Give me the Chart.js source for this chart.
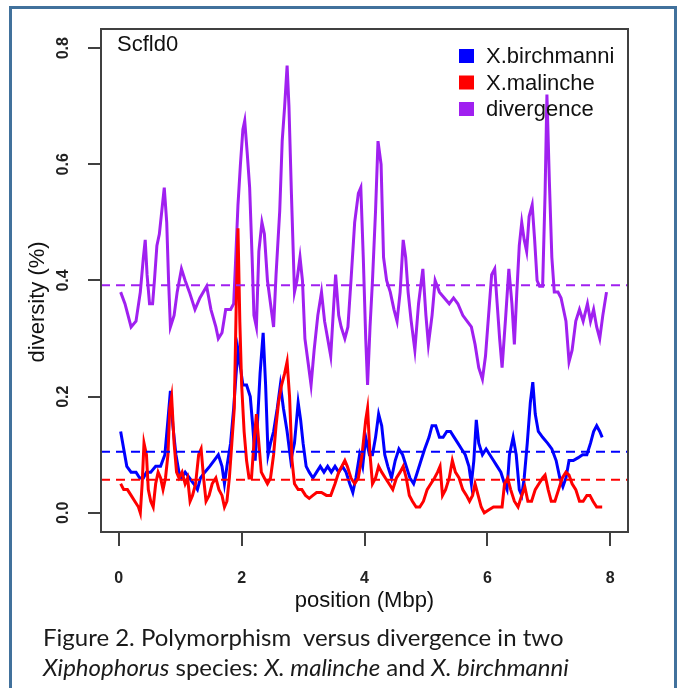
<!DOCTYPE html>
<html>
<head>
<meta charset="utf-8">
<script src="https://cdn.jsdelivr.net/npm/chart.js@4.4.1/dist/chart.umd.min.js"></script>
<style>
  body { margin: 0; background: #fff; }
  #wrap { position: relative; width: 683px; height: 688px; overflow: hidden; background: #fff; }
  #c { position: absolute; left: 0; top: 0; }
  #frame { position: absolute; left: 9px; top: 6px; width: 668px; height: 720px; border: 3px solid #41719c; box-sizing: border-box; }
  #caption { position: absolute; left: 43px; top: 622px; font-family: Lato, sans-serif; font-size: 24px; line-height: 30px; color: #1a1a1a; white-space: nowrap; }
</style>
</head>
<body>
<div id="wrap">
  <canvas id="c" width="683" height="688"></canvas>
  <div id="frame"></div>
  <div id="caption">Figure 2. Polymorphism&nbsp; versus divergence in two<br><i>Xiphophorus</i> species: <i>X. malinche</i> and <i>X. birchmanni</i></div>
</div>
<script>
// tick labels
const xTicks = [0, 2, 4, 6, 8];
const yTicks = [0, 0.2, 0.4, 0.6, 0.8];

// X.birchmanni diversity
const birchPos = [0.03,0.08,0.13,0.20,0.28,0.34,0.40,0.45,0.52,0.60,0.68,0.75,0.80,0.84,0.88,0.93,0.98,1.02,1.08,1.15,
  1.22,1.28,1.33,1.40,1.48,1.55,1.62,1.68,1.72,1.76,1.82,1.87,1.91,1.94,1.98,2.02,2.08,2.14,2.18,2.22,
  2.26,2.30,2.35,2.39,2.43,2.47,2.52,2.58,2.63,2.68,2.74,2.80,2.86,2.92,2.96,3.00,3.05,3.10,3.16,3.22,
  3.28,3.34,3.40,3.46,3.52,3.58,3.64,3.70,3.76,3.81,3.86,3.92,3.97,4.02,4.08,4.13,4.18,4.23,4.28,4.33,
  4.38,4.44,4.50,4.56,4.62,4.68,4.74,4.80,4.86,4.92,4.98,5.05,5.10,5.16,5.22,5.28,5.34,5.40,5.46,5.52,
  5.58,5.64,5.70,5.74,5.78,5.82,5.86,5.92,5.98,6.04,6.10,6.16,6.22,6.28,6.32,6.36,6.42,6.47,6.52,6.56,
  6.60,6.65,6.70,6.74,6.78,6.83,6.90,6.98,7.05,7.12,7.18,7.23,7.28,7.33,7.40,7.48,7.55,7.62,7.68,7.73,
  7.78,7.83,7.87];
const birchVal = [0.14,0.11,0.08,0.07,0.07,0.06,0.06,0.07,0.07,0.08,0.08,0.10,0.16,0.21,0.15,0.10,0.07,0.06,0.07,0.06,
  0.05,0.04,0.06,0.07,0.08,0.09,0.10,0.08,0.05,0.08,0.12,0.18,0.24,0.28,0.25,0.22,0.22,0.20,0.15,0.09,
  0.16,0.24,0.31,0.22,0.10,0.12,0.14,0.18,0.22,0.18,0.14,0.09,0.12,0.19,0.16,0.12,0.08,0.07,0.06,0.07,
  0.08,0.07,0.08,0.07,0.08,0.07,0.08,0.07,0.05,0.035,0.06,0.10,0.08,0.13,0.10,0.10,0.13,0.17,0.15,0.10,
  0.08,0.06,0.09,0.11,0.10,0.08,0.06,0.05,0.07,0.09,0.11,0.13,0.15,0.15,0.13,0.13,0.14,0.14,0.13,0.12,
  0.11,0.10,0.08,0.05,0.09,0.16,0.12,0.10,0.11,0.10,0.09,0.08,0.07,0.05,0.04,0.10,0.13,0.10,0.04,0.03,
  0.06,0.12,0.19,0.225,0.17,0.14,0.13,0.12,0.11,0.09,0.06,0.045,0.06,0.09,0.09,0.095,0.10,0.10,0.12,0.14,
  0.15,0.14,0.13];

// X.malinche diversity
const malPos = [0.03,0.08,0.14,0.20,0.26,0.32,0.35,0.38,0.41,0.45,0.48,0.52,0.56,0.60,0.64,0.68,0.72,0.76,0.80,0.83,
  0.86,0.90,0.94,0.98,1.03,1.08,1.12,1.16,1.20,1.25,1.30,1.34,1.38,1.42,1.47,1.52,1.58,1.63,1.68,1.72,
  1.76,1.80,1.84,1.88,1.91,1.94,1.97,2.00,2.04,2.08,2.12,2.16,2.20,2.24,2.28,2.32,2.37,2.42,2.47,2.52,
  2.56,2.60,2.65,2.70,2.74,2.78,2.82,2.86,2.92,2.98,3.04,3.10,3.16,3.22,3.30,3.38,3.45,3.52,3.58,3.63,
  3.68,3.72,3.78,3.84,3.90,3.96,4.02,4.05,4.09,4.13,4.18,4.23,4.28,4.34,4.40,4.46,4.52,4.58,4.63,4.68,
  4.73,4.78,4.84,4.90,4.96,5.02,5.08,5.14,5.19,5.23,5.27,5.32,5.38,5.43,5.48,5.54,5.60,5.66,5.71,5.76,
  5.80,5.85,5.90,5.95,6.02,6.10,6.18,6.24,6.28,6.33,6.38,6.44,6.50,6.56,6.61,6.66,6.72,6.78,6.84,6.90,
  6.94,6.99,7.04,7.10,7.16,7.22,7.28,7.33,7.38,7.44,7.50,7.56,7.62,7.67,7.72,7.78,7.83,7.87];
const malVal = [0.05,0.04,0.04,0.03,0.02,0.01,0.00,0.05,0.12,0.10,0.04,0.02,0.01,0.05,0.07,0.06,0.04,0.06,0.10,0.18,
  0.20,0.12,0.07,0.06,0.07,0.05,0.06,0.02,0.03,0.05,0.10,0.11,0.06,0.02,0.03,0.05,0.06,0.04,0.03,0.01,
  0.02,0.06,0.12,0.18,0.35,0.49,0.33,0.22,0.14,0.09,0.06,0.06,0.12,0.17,0.12,0.07,0.06,0.05,0.06,0.10,
  0.15,0.19,0.22,0.24,0.26,0.20,0.09,0.05,0.04,0.04,0.03,0.025,0.03,0.035,0.035,0.03,0.03,0.05,0.07,0.08,
  0.09,0.08,0.06,0.05,0.06,0.10,0.16,0.18,0.10,0.05,0.06,0.08,0.07,0.06,0.05,0.04,0.06,0.07,0.08,0.06,
  0.03,0.02,0.01,0.01,0.02,0.04,0.05,0.06,0.07,0.08,0.03,0.04,0.06,0.09,0.07,0.06,0.04,0.03,0.02,0.03,
  0.05,0.03,0.01,0.00,0.005,0.01,0.01,0.01,0.05,0.06,0.04,0.02,0.01,0.03,0.045,0.02,0.02,0.04,0.05,0.06,
  0.065,0.04,0.02,0.02,0.04,0.06,0.07,0.065,0.05,0.04,0.02,0.02,0.03,0.03,0.02,0.01,0.01,0.01];

// divergence
const divPos = [0.03,0.10,0.20,0.28,0.35,0.40,0.43,0.46,0.50,0.55,0.58,0.62,0.66,0.70,0.74,0.78,0.81,0.84,0.90,0.95,
  1.02,1.08,1.15,1.24,1.32,1.43,1.50,1.58,1.62,1.68,1.74,1.82,1.87,1.90,1.94,1.98,2.02,2.05,2.09,2.13,
  2.17,2.20,2.24,2.28,2.33,2.37,2.42,2.47,2.52,2.56,2.62,2.66,2.70,2.74,2.77,2.81,2.86,2.90,2.95,2.99,
  3.03,3.08,3.13,3.18,3.24,3.30,3.35,3.40,3.45,3.50,3.53,3.58,3.62,3.68,3.73,3.78,3.84,3.90,3.94,3.98,
  4.02,4.05,4.09,4.13,4.18,4.22,4.27,4.31,4.36,4.42,4.48,4.53,4.58,4.63,4.67,4.71,4.76,4.82,4.88,4.95,
  5.00,5.04,5.10,5.15,5.22,5.30,5.38,5.45,5.52,5.60,5.67,5.74,5.80,5.86,5.92,5.97,6.02,6.07,6.12,6.16,
  6.20,6.24,6.30,6.35,6.40,6.44,6.48,6.52,6.56,6.60,6.64,6.68,6.73,6.77,6.81,6.85,6.90,6.94,6.97,7.01,
  7.05,7.09,7.15,7.20,7.24,7.28,7.33,7.38,7.44,7.50,7.56,7.63,7.68,7.73,7.78,7.83,7.88,7.94];
const divVal = [0.38,0.36,0.32,0.33,0.38,0.44,0.47,0.41,0.36,0.36,0.40,0.46,0.48,0.52,0.56,0.50,0.40,0.32,0.34,0.38,
  0.42,0.40,0.38,0.35,0.37,0.39,0.35,0.32,0.30,0.31,0.35,0.35,0.36,0.43,0.53,0.60,0.66,0.675,0.62,0.56,
  0.44,0.34,0.32,0.45,0.50,0.48,0.40,0.36,0.32,0.41,0.52,0.64,0.70,0.77,0.70,0.55,0.38,0.40,0.44,0.40,
  0.30,0.26,0.22,0.28,0.34,0.38,0.33,0.30,0.27,0.36,0.41,0.34,0.32,0.30,0.32,0.40,0.50,0.55,0.56,0.44,
  0.30,0.22,0.32,0.40,0.52,0.64,0.60,0.44,0.40,0.38,0.35,0.33,0.38,0.47,0.44,0.38,0.33,0.28,0.36,0.42,
  0.34,0.29,0.34,0.40,0.38,0.37,0.36,0.37,0.36,0.34,0.33,0.32,0.29,0.25,0.23,0.27,0.34,0.41,0.42,0.36,
  0.30,0.25,0.34,0.42,0.36,0.29,0.38,0.46,0.50,0.47,0.45,0.51,0.53,0.47,0.40,0.39,0.39,0.55,0.72,0.57,
  0.44,0.38,0.38,0.37,0.35,0.33,0.26,0.28,0.33,0.35,0.33,0.36,0.33,0.35,0.32,0.30,0.34,0.38];

// genome-wide means (dashed lines)
const birchMean = 0.105;
const malMean = 0.057;
const divMean = 0.392;

const xMin = -0.29, xMax = 8.29;
const yMin = -0.033, yMax = 0.833;

const toPts = (xs, ys) => xs.map((x, i) => ({ x: x, y: ys[i] }));
const flat = v => [{ x: xMin, y: v }, { x: xMax, y: v }];

const blue = '#0000ff', red = '#ff0000', purple = '#a020f0';
const ax = '#404040';

const boxAndLegend = {
  id: 'boxAndLegend',
  afterDraw(chart) {
    const { ctx, chartArea: a } = chart;
    ctx.save();
    ctx.strokeStyle = ax;
    ctx.lineWidth = 2;
    ctx.strokeRect(a.left, a.top, a.right - a.left, a.bottom - a.top);
    ctx.fillStyle = '#111';
    ctx.font = '22px "Liberation Sans", Arial, sans-serif';
    ctx.textBaseline = 'middle';
    ctx.fillText('Scfld0', a.left + 16, a.top + 16);
    const items = chart.data.datasets.filter(d => d.inLegend);
    items.forEach((d, i) => {
      const y = a.top + 27 + i * 26.5;
      ctx.fillStyle = d.borderColor;
      ctx.fillRect(a.left + 358, y - 7, 15, 14);
      ctx.fillStyle = '#111';
      ctx.fillText(d.label, a.left + 385, y + 1);
    });
    ctx.restore();
  }
};

const line = (label, pts, color, order) => ({
  label, data: pts, borderColor: color, backgroundColor: color,
  borderWidth: 3, pointRadius: 0, tension: 0, order, inLegend: true
});
const dash = (v, color) => ({
  data: flat(v), borderColor: color, borderWidth: 2, borderDash: [9, 6],
  pointRadius: 0, order: -1, inLegend: false
});

new Chart(document.getElementById('c'), {
  type: 'line',
  data: {
    datasets: [
      line('X.birchmanni', toPts(birchPos, birchVal), blue, 1),
      line('X.malinche', toPts(malPos, malVal), red, 0),
      line('divergence', toPts(divPos, divVal), purple, 2),
      dash(divMean, purple),
      dash(birchMean, blue),
      dash(malMean, red)
    ]
  },
  options: {
    responsive: false,
    animation: false,
    layout: { padding: { left: 0, top: 29, right: 55, bottom: 56 } },
    plugins: { legend: { display: false }, tooltip: { enabled: false } },
    scales: {
      x: {
        type: 'linear', min: xMin, max: xMax,
        afterBuildTicks: s => { s.ticks = xTicks.map(v => ({ value: v })); },
        afterFit: s => { s.height = 100; },
        grid: { drawOnChartArea: false, drawTicks: true, tickLength: 14, color: ax, lineWidth: 2 },
        border: { display: false },
        ticks: { color: '#222', padding: 23, font: { family: 'Liberation Sans', size: 16, weight: 'bold' }, callback: v => String(v), maxRotation: 0 },
        title: { display: true, text: 'position (Mbp)', color: '#111', font: { family: 'Liberation Sans', size: 22 }, padding: { top: 0, bottom: 18 } }
      },
      y: {
        type: 'linear', min: yMin, max: yMax,
        afterBuildTicks: s => { s.ticks = yTicks.map(v => ({ value: v })); },
        afterFit: s => { s.width = 101; },
        grid: { drawOnChartArea: false, drawTicks: true, tickLength: 13, color: ax, lineWidth: 2 },
        border: { display: false },
        ticks: { color: '#222', padding: 13, crossAlign: 'center', minRotation: 90, maxRotation: 90, font: { family: 'Liberation Sans', size: 16, weight: 'bold' }, callback: v => v.toFixed(1) },
        // trailing spaces push the label toward the lower half, as in the original
        title: { display: true, text: 'diversity (%)\u00a0\u00a0\u00a0\u00a0\u00a0\u00a0\u00a0', color: '#111', font: { family: 'Liberation Sans', size: 22 }, padding: { top: 25, bottom: 0 } }
      }
    }
  },
  plugins: [boxAndLegend]
});
</script>
</body>
</html>
